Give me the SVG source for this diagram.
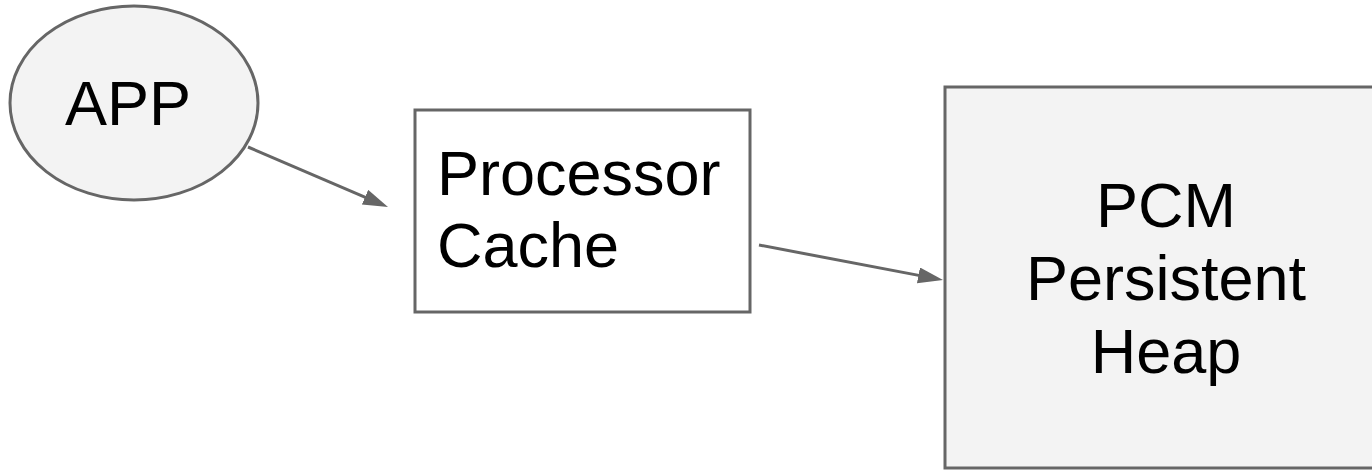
<svg xmlns="http://www.w3.org/2000/svg" width="1372" height="470" viewBox="0 0 1372 470">
  <style>
    .shape { stroke: #666666; stroke-width: 3; }
    .label { font-family: "Liberation Sans", Arial, sans-serif; font-size: 63px; fill: #000000; }
    .edge { stroke: #666666; stroke-width: 3; fill: none; }
  </style>
  <defs>
    <marker id="arrow" markerUnits="userSpaceOnUse" markerWidth="26" markerHeight="18" refX="15" refY="8" orient="auto">
      <path d="M0,0 L25,8 L0,16 z" fill="#666666"/>
    </marker>
  </defs>
  <rect width="1372" height="470" fill="#ffffff"/>

  <g id="app">
    <ellipse class="shape" cx="134" cy="103" rx="124" ry="97" fill="#f3f3f3"/>
    <text class="label" x="128" y="125" text-anchor="middle">APP</text>
  </g>

  <g id="processor-cache">
    <rect class="shape" x="415" y="110" width="335" height="202" fill="#ffffff"/>
    <text class="label" x="437" y="195">Processor</text>
    <text class="label" x="437" y="267">Cache</text>
  </g>

  <g id="pcm-heap">
    <rect class="shape" x="945" y="87" width="440" height="381" fill="#f3f3f3"/>
    <text class="label" x="1166" y="227" text-anchor="middle">PCM</text>
    <text class="label" x="1166" y="300" text-anchor="middle">Persistent</text>
    <text class="label" x="1166" y="373" text-anchor="middle">Heap</text>
  </g>

  <g id="connectors">
    <line class="edge" x1="248" y1="147" x2="378.8" y2="203.1" marker-end="url(#arrow)"/>
    <line class="edge" x1="759" y1="245" x2="933.2" y2="278.1" marker-end="url(#arrow)"/>
  </g>
</svg>
